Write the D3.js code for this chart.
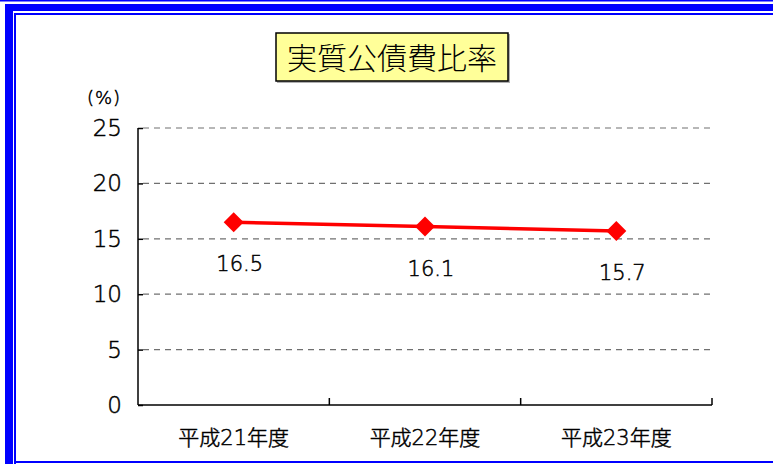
<!DOCTYPE html>
<html>
<head>
<meta charset="utf-8">
<script src="https://cdn.jsdelivr.net/npm/d3@7"></script>
<style>
  html, body { margin: 0; padding: 0; background: #fff; }
  svg { display: block; }
  text { font-family: "Noto Sans CJK JP", "Noto Sans", sans-serif; font-weight: 300; }
  text.num { font-family: "DejaVu Sans", "Noto Sans CJK JP", sans-serif; font-weight: 200; stroke: #000; stroke-width: 0.5px; }
</style>
</head>
<body>
<svg id="chart" width="773" height="464"></svg>
<script>
const categories = ["平成21年度", "平成22年度", "平成23年度"];
const values = [16.5, 16.1, 15.7];
const valueLabels = ["16.5", "16.1", "15.7"];
const yTicks = [0, 5, 10, 15, 20, 25];
const title = "実質公債費比率";
const unitLabel = "(%)";

const svg = d3.select("#chart");
const blue = "#0000ff";

// frame
svg.append("rect").attr("x", 0).attr("y", 0).attr("width", 773).attr("height", 1.5).attr("fill", blue);
svg.append("rect").attr("x", 5).attr("y", 4).attr("width", 768).attr("height", 7).attr("fill", blue);
svg.append("rect").attr("x", 5).attr("y", 4).attr("width", 8).attr("height", 460).attr("fill", blue);
svg.append("rect").attr("x", 14).attr("y", 13).attr("width", 759).attr("height", 2).attr("fill", blue);
svg.append("rect").attr("x", 14).attr("y", 13).attr("width", 2).attr("height", 451).attr("fill", blue);
svg.append("rect").attr("x", 14).attr("y", 461).attr("width", 759).attr("height", 2).attr("fill", blue);

const x0 = 138, x1 = 712, yTop = 128, yBot = 405;
const x = d3.scaleBand().domain(categories).range([x0, x1]);
const y = d3.scaleLinear().domain([0, 25]).range([yBot, yTop]);

// gridlines
svg.append("g").selectAll("line").data(yTicks.filter(d => d > 0)).join("line")
  .attr("x1", x0 + 5).attr("x2", x1)
  .attr("y1", d => y(d)).attr("y2", d => y(d))
  .attr("stroke", "#707070").attr("stroke-width", 1.2).attr("stroke-dasharray", "6,5");

// y axis
const yAxis = d3.axisRight(y).tickValues(yTicks).tickSize(5).tickFormat("");
const gy = svg.append("g").attr("transform", `translate(${x0},0)`).call(yAxis);
gy.select(".domain").remove();
gy.selectAll("line").attr("stroke", "#000").attr("stroke-width", 1.5);
svg.append("line").attr("x1", x0).attr("x2", x0).attr("y1", yTop).attr("y2", yBot)
  .attr("stroke", "#000").attr("stroke-width", 1.5);

svg.append("g").selectAll("text").data(yTicks).join("text")
  .attr("class", "num")
  .attr("x", 122).attr("y", d => y(d) + 8)
  .attr("text-anchor", "end").attr("font-size", 23).attr("fill", "#000")
  .text(d => d);

svg.append("text").attr("class", "num").attr("x", 104).attr("y", 104).attr("text-anchor", "middle")
  .attr("font-size", 18).attr("letter-spacing", 1).attr("fill", "#000").text(unitLabel);

// x axis
const tickXs = categories.map(c => x(c)).concat([x1]);
svg.append("line").attr("x1", x0).attr("x2", x1).attr("y1", yBot).attr("y2", yBot)
  .attr("stroke", "#000").attr("stroke-width", 1.5);
svg.append("g").selectAll("line").data(tickXs.slice(1)).join("line")
  .attr("x1", d => d).attr("x2", d => d).attr("y1", yBot).attr("y2", yBot - 7)
  .attr("stroke", "#000").attr("stroke-width", 1.5);

svg.append("g").selectAll("text").data(categories).join("text")
  .attr("class", "num")
  .attr("x", d => x(d) + x.bandwidth() / 2).attr("y", 445)
  .attr("text-anchor", "middle").attr("font-size", 21).attr("fill", "#000")
  .text(d => d);

// line
const pts = categories.map((c, i) => [x(c) + x.bandwidth() / 2, y(values[i])]);
svg.append("path").attr("d", d3.line()(pts))
  .attr("fill", "none").attr("stroke", "#ff0000").attr("stroke-width", 3.5);

svg.append("g").selectAll("path").data(pts).join("path")
  .attr("d", d => `M${d[0]},${d[1] - 10}L${d[0] + 10},${d[1]}L${d[0]},${d[1] + 10}L${d[0] - 10},${d[1]}Z`)
  .attr("fill", "#ff0000");

svg.append("g").selectAll("text").data(pts).join("text")
  .attr("class", "num")
  .attr("x", d => d[0] + 6).attr("y", d => d[1] + 49)
  .attr("text-anchor", "middle").attr("font-size", 21).attr("fill", "#000")
  .text((d, i) => valueLabels[i]);

// title box
svg.append("rect").attr("x", 277).attr("y", 34).attr("width", 233).attr("height", 49)
  .attr("fill", "#b0b0b0");
svg.append("rect").attr("x", 276).attr("y", 33).attr("width", 232).attr("height", 48)
  .attr("fill", "#ffff99").attr("stroke", "#000").attr("stroke-width", 1.5);
svg.append("text").attr("x", 392).attr("y", 69).attr("text-anchor", "middle")
  .attr("font-size", 30).attr("fill", "#000").text(title);
</script>
</body>
</html>
